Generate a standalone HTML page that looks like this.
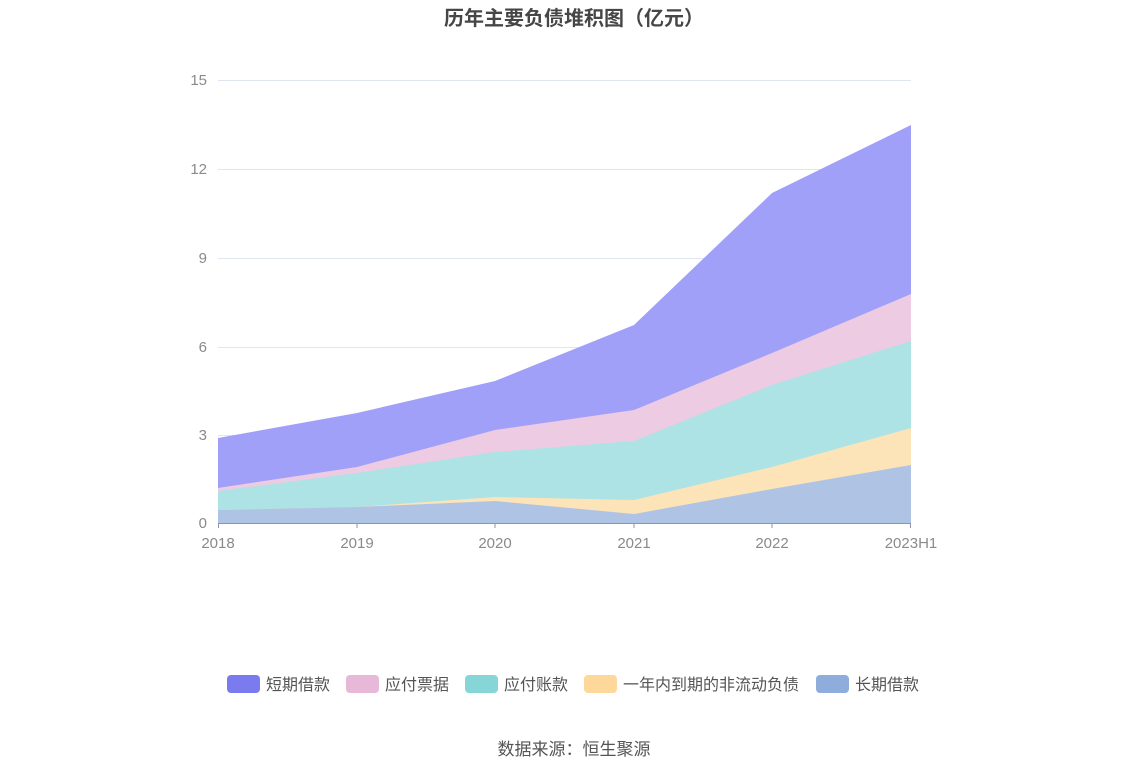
<!DOCTYPE html>
<html><head><meta charset="utf-8"><style>
body{margin:0;background:#fff;}
svg text{font-family:"Liberation Sans","Noto Sans CJK SC",sans-serif;}
</style></head><body>
<svg width="1148" height="776" xmlns="http://www.w3.org/2000/svg">
<text x="574" y="25" text-anchor="middle" font-size="20" font-weight="bold" fill="#464646">历年主要负债堆积图（亿元）</text>
<g stroke="#e0e6f1" stroke-width="1">
<line x1="218" y1="80.5" x2="911" y2="80.5"/>
<line x1="218" y1="169.5" x2="911" y2="169.5"/>
<line x1="218" y1="258.5" x2="911" y2="258.5"/>
<line x1="218" y1="347.5" x2="911" y2="347.5"/>
<line x1="218" y1="435.5" x2="911" y2="435.5"/>
</g>
<g font-size="15" fill="#8a8a8a" text-anchor="end">
<text x="207" y="85">15</text><text x="207" y="174">12</text><text x="207" y="263">9</text>
<text x="207" y="352">6</text><text x="207" y="440">3</text><text x="207" y="528">0</text>
</g>
<polygon fill="#a0a0f8" points="218,438 357,413 495,381 634,325 772,193 911,125 911,523 218,523"/>
<polygon fill="#edcbe2" points="218,488 357,467 495,430 634,410 772,353 911,294 911,523 218,523"/>
<polygon fill="#ade3e4" points="218,491 357,473 495,452 634,441 772,385 911,341 911,523 218,523"/>
<polygon fill="#fde3b8" points="218,510 357,507 495,497 634,500 772,467 911,428 911,523 218,523"/>
<polygon fill="#afc4e5" points="218,510 357,507 495,501 634,514 772,489 911,465 911,523 218,523"/>
<line x1="218" y1="523.5" x2="911" y2="523.5" stroke="#8c96a8" stroke-width="1"/>
<g stroke="#8c96a8">
<line x1="218.5" y1="523" x2="218.5" y2="528"/><line x1="357" y1="523" x2="357" y2="528"/>
<line x1="495" y1="523" x2="495" y2="528"/><line x1="634" y1="523" x2="634" y2="528"/>
<line x1="772" y1="523" x2="772" y2="528"/><line x1="910.5" y1="523" x2="910.5" y2="528"/>
</g>
<g font-size="15" fill="#8a8a8a" text-anchor="middle">
<text x="218" y="548">2018</text><text x="357" y="548">2019</text><text x="495" y="548">2020</text>
<text x="634" y="548">2021</text><text x="772" y="548">2022</text><text x="911" y="548">2023H1</text>
</g>
<g font-size="16" fill="#555">
<rect x="227" y="675" width="33" height="18" rx="4" fill="#7b7bf0"/><text x="266" y="690">短期借款</text>
<rect x="346" y="675" width="33" height="18" rx="4" fill="#e8b8d8"/><text x="385" y="690">应付票据</text>
<rect x="465" y="675" width="33" height="18" rx="4" fill="#86d6d8"/><text x="504" y="690">应付账款</text>
<rect x="584" y="675" width="33" height="18" rx="4" fill="#fed89a"/><text x="623" y="690">一年内到期的非流动负债</text>
<rect x="816" y="675" width="33" height="18" rx="4" fill="#8eaddc"/><text x="855" y="690">长期借款</text>
</g>
<text x="574" y="755" text-anchor="middle" font-size="17" fill="#555">数据来源：恒生聚源</text>
</svg>
</body></html>
